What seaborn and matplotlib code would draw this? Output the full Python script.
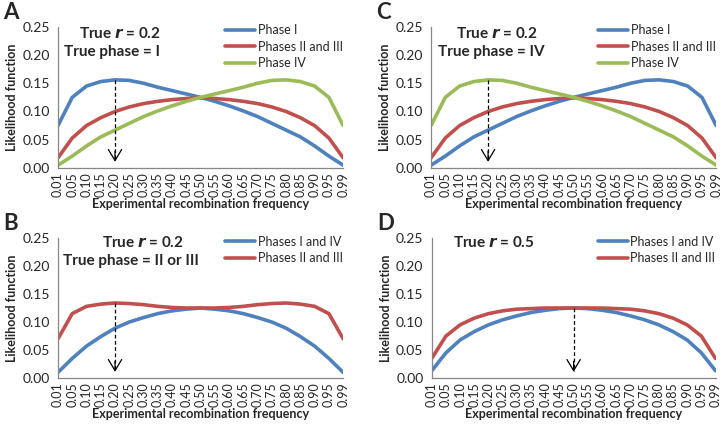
import numpy as np
import pandas as pd
import matplotlib
matplotlib.use('Agg')
import matplotlib.pyplot as plt
import seaborn as sns

# --------- DATA -----------------------------------
x_labels = ["0.01", "0.05", "0.10", "0.15", "0.20", "0.25", "0.30", "0.35", "0.40", "0.45", "0.50",
            "0.55", "0.60", "0.65", "0.70", "0.75", "0.80", "0.85", "0.90", "0.95", "0.99"]

# panel A: true r = 0.2, true phase = I
a_phase1 = [0.075, 0.125, 0.145, 0.153, 0.156, 0.155, 0.150, 0.143, 0.137, 0.131, 0.125,
            0.118, 0.110, 0.101, 0.091, 0.079, 0.067, 0.055, 0.039, 0.021, 0.005]
a_phase23 = [0.018, 0.053, 0.075, 0.089, 0.100, 0.108, 0.114, 0.118, 0.121, 0.123, 0.124,
             0.123, 0.121, 0.118, 0.114, 0.108, 0.100, 0.089, 0.075, 0.053, 0.018]
a_phase4 = [0.005, 0.021, 0.039, 0.055, 0.067, 0.079, 0.091, 0.101, 0.110, 0.118, 0.125,
            0.131, 0.137, 0.143, 0.150, 0.155, 0.156, 0.153, 0.145, 0.125, 0.075]

# panel C: true r = 0.2, true phase = IV
c_phase1 = [0.005, 0.021, 0.039, 0.055, 0.067, 0.079, 0.091, 0.101, 0.110, 0.118, 0.125,
            0.131, 0.137, 0.143, 0.150, 0.155, 0.156, 0.153, 0.145, 0.125, 0.075]
c_phase23 = [0.018, 0.053, 0.075, 0.089, 0.100, 0.108, 0.114, 0.118, 0.121, 0.123, 0.124,
             0.123, 0.121, 0.118, 0.114, 0.108, 0.100, 0.089, 0.075, 0.053, 0.018]
c_phase4 = [0.075, 0.125, 0.145, 0.153, 0.156, 0.155, 0.150, 0.143, 0.137, 0.131, 0.125,
            0.118, 0.110, 0.101, 0.091, 0.079, 0.067, 0.055, 0.039, 0.021, 0.005]

# panel B: true r = 0.2, true phase = II or III
b_phase14 = [0.010, 0.035, 0.057, 0.074, 0.089, 0.100, 0.108, 0.115, 0.120, 0.123, 0.125,
             0.123, 0.120, 0.115, 0.108, 0.100, 0.089, 0.074, 0.057, 0.035, 0.010]
b_phase23 = [0.070, 0.115, 0.128, 0.132, 0.134, 0.133, 0.131, 0.128, 0.126, 0.125, 0.125,
             0.125, 0.126, 0.128, 0.131, 0.133, 0.134, 0.132, 0.128, 0.115, 0.070]

# panel D: true r = 0.5
d_phase14 = [0.013, 0.045, 0.068, 0.083, 0.095, 0.104, 0.111, 0.117, 0.121, 0.124, 0.125,
             0.124, 0.121, 0.117, 0.111, 0.104, 0.095, 0.083, 0.068, 0.045, 0.013]
d_phase23 = [0.035, 0.075, 0.095, 0.107, 0.115, 0.120, 0.123, 0.124, 0.125, 0.125, 0.125,
             0.125, 0.125, 0.124, 0.123, 0.120, 0.115, 0.107, 0.095, 0.075, 0.035]

BLUE, RED, GREEN = "#4F81BD", "#C0504D", "#9BBB59"
AXIS_GRAY = "#868686"

sns.set_style("white")
plt.rcParams['font.family'] = ['Lato', 'DejaVu Sans']

fig = plt.figure(figsize=(7.22, 4.28), dpi=100)


def draw_panel(rect, letter, series, arrow_series, true_r, texts):
    ax = fig.add_axes(rect)
    names = [s[0] for s in series]
    rows = []
    for name, vals, _ in series:
        for i, v in enumerate(vals):
            rows.append({"idx": i, "value": v, "series": name})
    df = pd.DataFrame(rows)
    sns.lineplot(data=df, x="idx", y="value", hue="series", hue_order=names,
                 palette=[s[2] for s in series], linewidth=2.6, ax=ax, legend=False)

    # dashed arrow from the true-phase curve down to the axis
    xi = x_labels.index(true_r)
    top = arrow_series[xi]
    ax.plot([xi, xi], [top, 0.012], color="black", lw=0.9, ls=(0, (3, 2)))
    ax.annotate("", xy=(xi, 0.006), xytext=(xi, 0.035),
                arrowprops=dict(arrowstyle="->, head_length=0.5, head_width=0.3",
                                color="black", lw=0.9, mutation_scale=16))

    ax.set_xlim(0, len(x_labels) - 1)
    ax.set_ylim(0, 0.25)
    ax.set_xticks(range(len(x_labels)))
    ax.set_xticklabels(x_labels, rotation=90, fontsize=9)
    ax.set_yticks(np.arange(0, 0.26, 0.05))
    ax.set_yticklabels([f"{v:.2f}" for v in np.arange(0, 0.26, 0.05)], fontsize=10)
    ax.tick_params(axis="x", direction="in", length=4, color=AXIS_GRAY, pad=3)
    ax.tick_params(axis="y", direction="out", length=4, color=AXIS_GRAY, pad=2)
    for side in ["top", "right"]:
        ax.spines[side].set_visible(False)
    for side in ["left", "bottom"]:
        ax.spines[side].set_color(AXIS_GRAY)
        ax.spines[side].set_linewidth(0.9)
    ax.set_xlabel("Experimental recombination frequency", fontsize=9, fontweight="bold", labelpad=1)
    ax.set_ylabel("Likelihood function", fontsize=9, fontweight="bold", labelpad=3)

    handles = [plt.Line2D([], [], color=s[2], lw=2.6) for s in series]
    ax.legend(handles, names, loc="upper left", bbox_to_anchor=(0.555, 1.08), frameon=False,
              fontsize=9, handlelength=2.4, handletextpad=0.2, labelspacing=0.35, borderpad=0.2)

    for tx, ty, s in texts:
        ax.text(tx, ty, s, transform=ax.transAxes, ha="center", va="center",
                fontsize=11, fontweight="bold")

    fig.text(rect[0] - 0.076, rect[1] + rect[3] + 0.058, letter, fontsize=16,
             fontweight="bold", va="top", ha="left")
    return ax


draw_panel([0.0803, 0.6075, 0.395, 0.33], "A",
           [("Phase I", a_phase1, BLUE), ("Phases II and III", a_phase23, RED), ("Phase IV", a_phase4, GREEN)],
           a_phase1, "0.20",
           [(0.218, 0.955, r"True $\mathbfit{r}$ = 0.2"), (0.19, 0.82, "True phase = I")])

draw_panel([0.597, 0.6075, 0.395, 0.33], "C",
           [("Phase I", c_phase1, BLUE), ("Phases II and III", c_phase23, RED), ("Phase IV", c_phase4, GREEN)],
           c_phase4, "0.20",
           [(0.232, 0.955, r"True $\mathbfit{r}$ = 0.2"), (0.21, 0.82, "True phase = IV")])

draw_panel([0.0803, 0.1168, 0.395, 0.327], "B",
           [("Phases I and IV", b_phase14, BLUE), ("Phases II and III", b_phase23, RED)],
           b_phase23, "0.20",
           [(0.298, 0.97, r"True $\mathbfit{r}$ = 0.2"), (0.255, 0.835, "True phase = II or III")])

draw_panel([0.598, 0.1168, 0.393, 0.327], "D",
           [("Phases I and IV", d_phase14, BLUE), ("Phases II and III", d_phase23, RED)],
           d_phase23, "0.50",
           [(0.219, 0.97, r"True $\mathbfit{r}$ = 0.5")])

plt.savefig("out.png", dpi=100)
plt.close()
